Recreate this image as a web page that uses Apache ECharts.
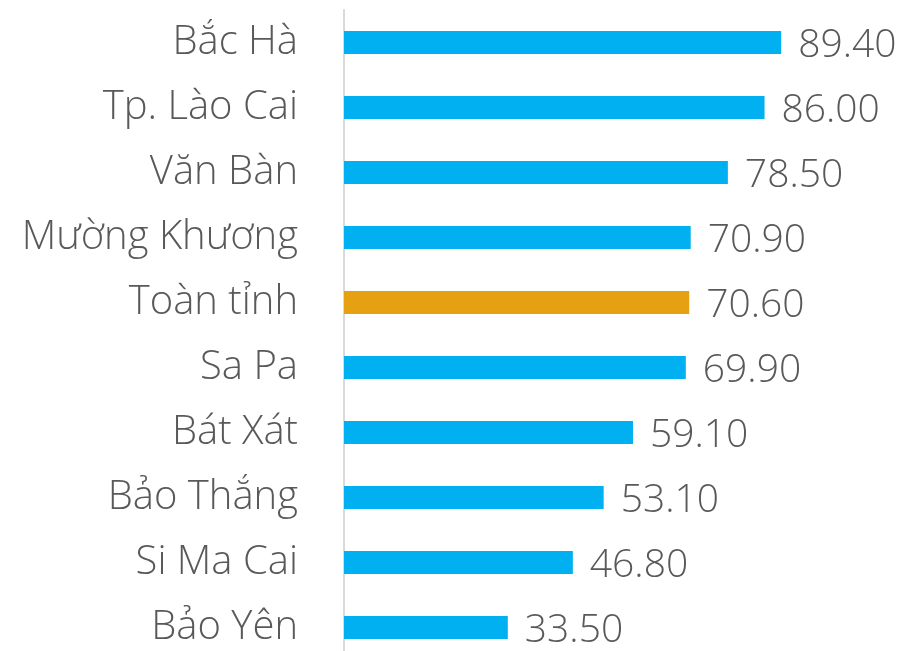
<!DOCTYPE html>
<html>
<head>
<meta charset="utf-8">
<script src="https://cdn.jsdelivr.net/npm/echarts@6/dist/echarts.min.js"></script>
<style>
  html, body { margin: 0; padding: 0; background: #fff; }
  #chart { width: 899px; height: 651px; }
</style>
</head>
<body>
<div id="chart"></div>
<script>
// Districts, top to bottom
const districts = ['Bắc Hà', 'Tp. Lào Cai', 'Văn Bàn', 'Mường Khương', 'Toàn tỉnh',
  'Sa Pa', 'Bát Xát', 'Bảo Thắng', 'Si Ma Cai', 'Bảo Yên'];
const values = [89.40, 86.00, 78.50, 70.90, 70.60, 69.90, 59.10, 53.10, 46.80, 33.50];
const highlight = 'Toàn tỉnh';

const blue = '#00B0F0';
const gold = '#E5A112';
const textColor = '#595959';
const font = '"Open Sans", "Noto Sans", sans-serif';

const chart = echarts.init(document.getElementById('chart'));
chart.setOption({
  animation: false,
  grid: {
    left: 344, top: 10, width: 489, height: 650,
    containLabel: false,
    outerBoundsMode: 'none'
  },
  xAxis: {
    type: 'value', min: 0, max: 100,
    show: false
  },
  yAxis: {
    type: 'category',
    data: districts,
    inverse: true,
    axisLine: { show: true, lineStyle: { color: '#D9D9D9', width: 2 } },
    axisTick: { show: false },
    axisLabel: {
      margin: 46,
      color: textColor,
      fontFamily: font,
      fontWeight: 300,
      fontSize: 40
    }
  },
  series: [{
    type: 'bar',
    barWidth: 23,
    data: values.map((v, i) => ({
      value: v,
      itemStyle: { color: districts[i] === highlight ? gold : blue }
    })),
    label: {
      show: true,
      position: 'right',
      distance: 17,
      offset: [0, 3],
      color: textColor,
      fontFamily: font,
      fontWeight: 300,
      fontSize: 39,
      formatter: p => p.value.toFixed(2)
    }
  }]
});
</script>
</body>
</html>
